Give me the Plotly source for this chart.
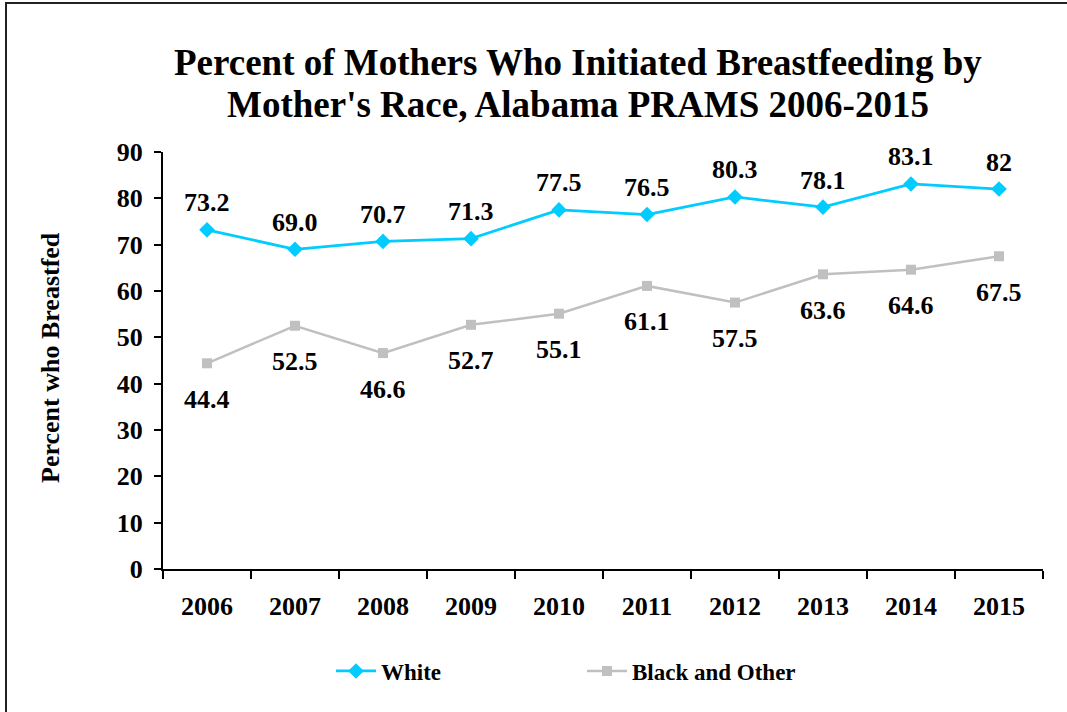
import plotly.graph_objects as go

# Alabama PRAMS: breastfeeding initiation by mother's race
years = ["2006", "2007", "2008", "2009", "2010", "2011", "2012", "2013", "2014", "2015"]
white = [73.2, 69.0, 70.7, 71.3, 77.5, 76.5, 80.3, 78.1, 83.1, 82]
black_other = [44.4, 52.5, 46.6, 52.7, 55.1, 61.1, 57.5, 63.6, 64.6, 67.5]
white_labels = ["73.2", "69.0", "70.7", "71.3", "77.5", "76.5", "80.3", "78.1", "83.1", "82"]
black_labels = ["44.4", "52.5", "46.6", "52.7", "55.1", "61.1", "57.5", "63.6", "64.6", "67.5"]
y_ticks = [0, 10, 20, 30, 40, 50, 60, 70, 80, 90]

FONT = "Liberation Serif"
CYAN = "#00CCFF"
GRAY = "#C0C0C0"

W, H = 1067, 712
ML, MR, MT, MB = 163, 24, 152, 143
PW, PH = W - ML - MR, H - MT - MB


def px_x(x):
    return (x - ML) / PW


def px_y(y):
    return (H - MB - y) / PH


fig = go.Figure()
fig.add_trace(go.Scatter(
    x=years, y=white, name="<b>White</b>", mode="lines+markers",
    line=dict(color=CYAN, width=2.75),
    marker=dict(symbol="diamond", size=12, color=CYAN),
))
fig.add_trace(go.Scatter(
    x=years, y=black_other, name="<b>Black and Other</b>", mode="lines+markers",
    line=dict(color=GRAY, width=2.5),
    marker=dict(symbol="square", size=10, color=GRAY),
))

label_font = dict(family=FONT, size=26, color="black")
annotations = []
# value labels: x given as category index
for i, (v, t) in enumerate(zip(white, white_labels)):
    annotations.append(dict(x=i, y=v, xref="x", yref="y", text=f"<b>{t}</b>",
                            showarrow=False, yshift=27, font=label_font))
for i, (v, t) in enumerate(zip(black_other, black_labels)):
    annotations.append(dict(x=i, y=v, xref="x", yref="y", text=f"<b>{t}</b>",
                            showarrow=False, yshift=-36, font=label_font))

# title lines
annotations.append(dict(xref="paper", yref="paper", x=px_x(578), y=px_y(62),
                        text="<b>Percent of Mothers Who Initiated Breastfeeding by</b>",
                        showarrow=False, xanchor="center", yanchor="middle",
                        font=dict(family=FONT, size=37, color="black")))
annotations.append(dict(xref="paper", yref="paper", x=px_x(578), y=px_y(104),
                        text="<b>Mother's Race, Alabama PRAMS 2006-2015</b>",
                        showarrow=False, xanchor="center", yanchor="middle",
                        font=dict(family=FONT, size=37, color="black")))
# y axis title
annotations.append(dict(xref="paper", yref="paper", x=px_x(50), y=px_y(358),
                        text="<b>Percent who Breastfed</b>", textangle=-90,
                        showarrow=False, xanchor="center", yanchor="middle",
                        font=dict(family=FONT, size=26, color="black")))

fig.update_layout(
    width=W, height=H,
    margin=dict(l=ML, r=MR, t=MT, b=MB),
    paper_bgcolor="white", plot_bgcolor="white",
    font=dict(family=FONT, color="black"),
    annotations=annotations,
    showlegend=True,
    legend=dict(orientation="h", x=px_x(582), y=px_y(671),
                xanchor="center", yanchor="middle",
                font=dict(family=FONT, size=23, color="black"),
                entrywidth=196, itemwidth=40),
    shapes=[dict(type="rect", xref="paper", yref="paper",
                 x0=px_x(6), x1=px_x(1072), y0=px_y(720), y1=px_y(3),
                 line=dict(color="#222222", width=2), fillcolor="rgba(0,0,0,0)",
                 layer="below")],
)
fig.update_xaxes(
    type="category", range=[-0.5, 9.5], tickson="boundaries",
    ticks="outside", ticklen=8, tickwidth=2, tickcolor="black",
    showline=True, linecolor="black", linewidth=2, showgrid=False, zeroline=False,
    tickfont=dict(family=FONT, size=26, color="black"), ticklabelstandoff=13,
    tickprefix="<b>", ticksuffix="</b>",
)
fig.update_yaxes(
    range=[0, 90], tickvals=y_ticks, ticktext=[f"<b>{v}</b>" for v in y_ticks],
    ticks="outside", ticklen=7, tickwidth=2, tickcolor="black",
    showline=True, linecolor="black", linewidth=2, showgrid=False, zeroline=False,
    tickfont=dict(family=FONT, size=26, color="black"), ticklabelstandoff=6,
)

fig.write_html("out.html")
